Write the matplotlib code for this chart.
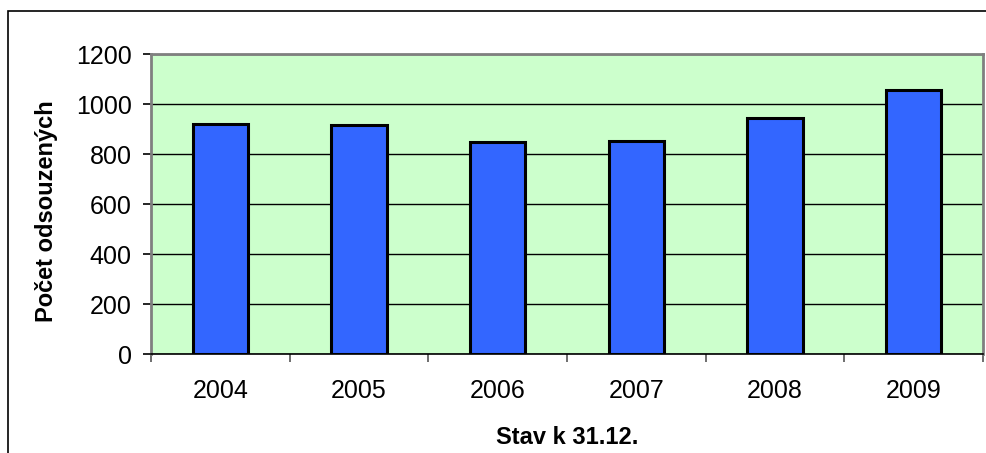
import numpy as np
import matplotlib
matplotlib.use('Agg')
from matplotlib import pyplot as plt
from matplotlib.patches import Rectangle

years = ['2004', '2005', '2006', '2007', '2008', '2009']
odsouzeni = [921, 916, 847, 851, 944, 1056]

plt.rcParams['font.family'] = ['Liberation Sans', 'DejaVu Sans']

fig = plt.figure(figsize=(9.86, 4.53), dpi=100)
ax = fig.add_axes([151 / 986, 99 / 453, 832 / 986, 300 / 453])

# outer chart border (cut off on the right and bottom)
fig.patches.append(Rectangle((8 / 986, -0.1), 1.2, 0.1 + 1 - 11 / 453,
                             transform=fig.transFigure, fill=False,
                             edgecolor='black', linewidth=1.2))

x = np.arange(len(years))
ax.set_facecolor('#CCFFCC')
ax.bar(x, odsouzeni, width=0.4, color='#3366FF', edgecolor='black',
       linewidth=2.2, zorder=3)

ax.set_xlim(-0.5, len(years) - 0.5)
ax.set_ylim(0, 1200)
ax.set_yticks(np.arange(0, 1201, 200))
ax.yaxis.grid(True, color='black', linewidth=1, zorder=1)
ax.set_axisbelow(True)

ax.set_xticks(x)
ax.set_xticklabels(years)
ax.set_xticks(np.arange(-0.5, len(years), 1), minor=True)
ax.tick_params(axis='x', which='major', length=0, pad=18, labelsize=18)
ax.tick_params(axis='x', which='minor', length=6, width=1.2, color='#555555')
ax.tick_params(axis='y', length=6, width=1.2, pad=8, labelsize=18)

for side in ['left', 'top', 'right']:
    ax.spines[side].set_color('#808080')
    ax.spines[side].set_linewidth(2)
ax.spines['bottom'].set_color('black')
ax.spines['bottom'].set_linewidth(1.2)

fig.text(47 / 986, 1 - 211 / 453, 'Počet odsouzených', rotation=90,
         ha='center', va='center', fontsize=17, fontweight='bold')
fig.text(567 / 986, 1 - 438 / 453, 'Stav k 31.12.', ha='center',
         va='center', fontsize=17, fontweight='bold')

fig.savefig('out.png', dpi=100)
